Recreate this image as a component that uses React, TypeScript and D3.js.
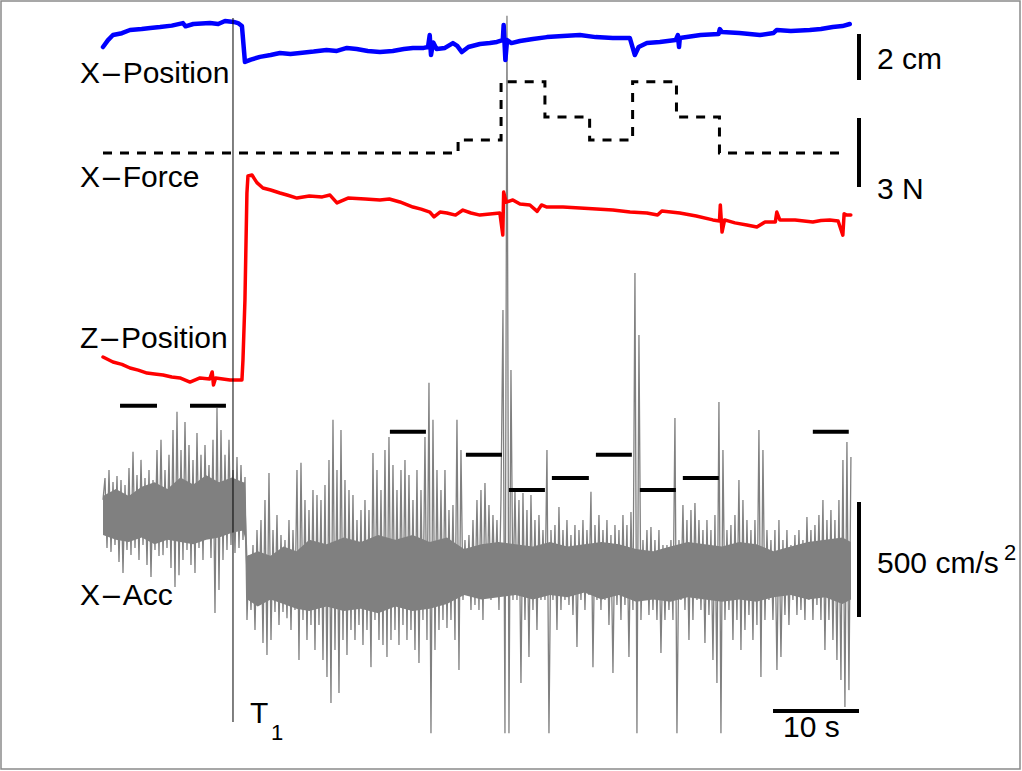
import React from 'react';
import * as d3 from 'd3';

// ---- time axis (seconds) ----
const T_MAX = 87;
const T1 = 15.12;

// ---- X-Position (cm) ----
const xPosition: [number, number][] = [
  [0, 1.0], [0.58, 1.3], [1.16, 1.52], [2.2, 1.6], [3.14, 1.74], [4.5, 1.78], [5.5, 1.83], [6.63, 1.87],
  [8.0, 1.93], [9.3, 2.04], [9.6, 1.9], [10.5, 2.0], [12.44, 2.04], [13.4, 2.0], [14.19, 2.13], [15.2, 2.09],
  [15.7, 2.04], [16.16, 1.91], [16.51, 0.35], [17.2, 0.45], [18.26, 0.57], [19.5, 0.65], [20.58, 0.74],
  [21.8, 0.7], [22.91, 0.74], [24.5, 0.8], [26.0, 0.87], [27.2, 0.83], [28.37, 0.96], [29.5, 0.91],
  [30.8, 0.83], [32.21, 0.78], [33.7, 0.83], [35.0, 0.91], [36.05, 0.96], [37.3, 0.96], [37.8, 1.0],
  [38.0, 1.52], [38.15, 0.65], [38.4, 1.2], [38.8, 0.91], [39.77, 0.96], [40.7, 1.17], [41.2, 1.05],
  [41.74, 0.78], [42.5, 1.0], [43.84, 1.13], [45.0, 1.17], [45.81, 1.22], [46.5, 1.3], [46.6, 1.96],
  [46.8, 0.43], [47.0, 1.3], [47.5, 1.17], [48.49, 1.26], [50.0, 1.35], [51.63, 1.43], [53.5, 1.48],
  [55.47, 1.52], [57.3, 1.43], [59.3, 1.39], [61.28, 1.39], [61.86, 0.65], [62.3, 1.0], [63.26, 1.17],
  [64.77, 1.22], [66.6, 1.3], [66.86, 1.52], [67.0, 1.0], [67.09, 1.39], [69.5, 1.52], [71.6, 1.57],
  [71.74, 1.78], [72.0, 1.65], [74.0, 1.61], [76.4, 1.52], [78.0, 1.61], [78.37, 1.74], [80.0, 1.7],
  [82.21, 1.74], [83.5, 1.78], [84.88, 1.87], [86.0, 1.91], [86.86, 2.0],
];

// ---- X-Force (N), step changes ----
const forceT = [0, 41.3, 46.3, 51.4, 56.6, 61.6, 66.7, 71.7, 86.05];
const forceN = [0, 0.57, 3.1, 1.57, 0.57, 3.1, 1.57, 0, 0];

// ---- Z-Position (cm) ----
const zPosition: [number, number][] = [
  [0, 1.87], [1.16, 1.65], [2.2, 1.55], [3.14, 1.39], [4.1, 1.3], [5.12, 1.17], [6.0, 1.13], [6.98, 1.09],
  [8.0, 1.0], [8.95, 0.96], [10.12, 0.78], [11.28, 0.96], [12.4, 0.91], [12.7, 1.22], [12.85, 0.65],
  [13.1, 0.96], [14.77, 0.87], [16.16, 0.87], [16.28, 1.74], [16.51, 4.35], [16.74, 9.0], [16.86, 9.74],
  [17.33, 9.78], [17.9, 9.45], [18.6, 9.22], [19.5, 9.13], [20.58, 9.0], [21.5, 8.9], [22.56, 8.78],
  [24.0, 8.87], [25.5, 8.83], [26.4, 8.91], [27.21, 8.57], [28.5, 8.78], [30.5, 8.74], [32.21, 8.7],
  [33.3, 8.74], [34.53, 8.61], [36.05, 8.39], [37.0, 8.3], [38.02, 8.17], [38.5, 7.96], [39.2, 8.17],
  [40.0, 8.13], [41.0, 8.04], [41.86, 8.26], [42.8, 8.13], [43.84, 8.04], [45.0, 8.09], [46.16, 8.13],
  [46.5, 7.17], [46.6, 9.04], [46.9, 8.6], [47.67, 8.7], [48.5, 8.52], [49.65, 8.48], [50.5, 8.2],
  [51.0, 8.48], [51.63, 8.39], [53.5, 8.39], [55.47, 8.35], [57.4, 8.3], [59.3, 8.26], [61.3, 8.17],
  [63.26, 8.13], [64.5, 8.04], [65.0, 8.22], [67.09, 8.13], [69.0, 8.0], [70.93, 7.83], [71.7, 7.78],
  [71.8, 8.48], [72.0, 7.3], [72.3, 7.83], [73.5, 7.7], [74.88, 7.61], [76.05, 7.52], [77.0, 7.74],
  [78.2, 7.74], [78.37, 8.17], [78.72, 7.83], [80.5, 7.83], [82.56, 7.74], [83.5, 7.8], [84.53, 7.83],
  [85.5, 7.78], [86.05, 7.17], [86.2, 8.1], [86.51, 8.04], [86.98, 8.04],
];

// ---- X-Acc (cm/s^2), uniformly sampled ----
const ACC_DT = 0.2326;
const accValues = [
  283, 378, 74, 413, 57, 361, 87, 387, 13, 370,
  -35, 348, 65, 422, 43, 492, 74, 391, 22, 457,
  87, 378, 0, 413, -52, 370, 65, 500, 39, 544,
  43, 413, 74, 479, -13, 587, -96, 666, -44, 500,
  22, 622, 65, 522, 0, 457, -35, 574, 74, 479,
  22, 522, 130, 435, 30, 544, -209, 683, -109, 587,
  22, 479, 65, 544, 87, 413, 52, 470, 74, 435,
  109, 383,
  -239, 43, -196, 87, -283, 152, -152, 196, -339, 283,
  -391, 400, -326, 152, -204, 217, -261, 130, -204,
  109, -231, 196, -283, 152, -196, 413, -413, 444, -239,
  283, -326, 239, -261, 326, -370, 304, -261, 283, -413,
  348, -487, 457, -600, 631, -370, 413, -557, 587, -326,
  370, -391, 326, -283, 304, -326, 196, -261, 239, -348,
  283, -283, 239, -444, 487, -239, 413, -326, 326, -348,
  500, -400, 557, -326, 435, -283, 326, -348, 413, -261,
  457, -326, 391, -283, 283, -370, 413, -426, 326, -239,
  557, -326, 792, -731, 631, -370, 413, -283, 326, -239,
  413, -274, 239, -239, 261, -326, 631, -457, 500, -152,
  109, -130, 130, -196, 196,
  -174, 283, -196, 326, -239, 357, -130, 261, -152, 217,
  -109, 196, -196, 283, 1109, -731, 2388, -731, 848, -152,
  326, -152, 283, -513, 313, -239, 239, -400, 304, -196,
  196, -283, 217, -152, 152, -152, 500, -731, 152, -152,
  174, -283, 252, -196, 152, -152, 196, -174, 130, -217,
  174, -357, 152, -152, 196, -196, 152, -130, 318, -444,
  174, -152, 217, -196, 152, -152, 196, -261, 130, -470,
  174, -174, 152, -239, 217, -174, 174, -400, 230, -196,
  1270, -731, 1000, -239, 109, -152, 152, -217, 165, -196,
  109, -239, 152, -383, 87,
  -239, 87, -196, 109, -239, 639, -731, 109, -152,
  261, -196, 196, -326, 239, -239, 270, -152, 196, -196,
  152, -339, 196, -217, 152, -413, 217, -513, 709, -731,
  500, -239, 152, -196, 174, -326, 217, -239, 370, -370,
  283, -283, 196, -217, 152, -326, 196, -261, 587, -487,
  500, -239, 152, -152, 109, -239, 152, -457, 196, -400,
  109, -217, 152, -261, 87, -152, 130, -217, 152, -196,
  109, -239, 209, -152, 152, -239, 174, -174, 217, -239,
  283, -370, 196, -239, 239, -326, 196, -413, 283, -500,
  457, -617, 535, -544, 470,
];

// dense core of the acceleration band
const accBandT = [
  0, 1.5, 3, 4.5, 6, 7.5, 9, 10.5, 12, 13.5, 15, 16.3, 16.5, 16.8, 18, 19.5, 21, 22.5, 24, 26, 28, 30,
  32, 34, 36, 38, 40, 42, 44, 46, 48, 50, 52, 54, 56, 58, 60, 62, 64, 66, 68, 70, 72, 74, 76, 78, 80,
  82, 84, 86, 87,
];
const accBandHi = [
  300, 330, 300, 340, 360, 330, 380, 350, 390, 360, 380, 360, 360, 40, 60, 40, 80, 60, 110, 90, 120, 100,
  130, 110, 130, 100, 120, 70, 90, 100, 90, 80, 100, 80, 90, 100, 90, 70, 60, 80, 100, 90, 80, 100, 90, 60, 80,
  100, 110, 120, 100,
];
const accBandLo = [
  130, 110, 100, 120, 90, 110, 100, 90, 110, 120, 140, 150, 120, -150, -180, -150, -170, -190, -200, -180, -200, -190,
  -210, -180, -200, -190, -170, -130, -150, -140, -130, -150, -130, -140, -120, -150, -130, -160, -150, -160, -140, -150, -160, -150, -160, -140, -130,
  -150, -140, -170, -150,
];

// black level markers in the acceleration panel
const markStart = [1.98, 10.12, 33.37, 42.21, 47.21, 52.21, 57.33, 62.44, 67.44, 82.56];
const markEnd = [6.28, 14.3, 37.56, 46.4, 51.4, 56.51, 61.51, 66.63, 71.63, 86.74];
const markLevel = [692, 692, 579, 479, 326, 378, 479, 326, 378, 579];

const FONT = "'Liberation Sans', Arial, Helvetica, sans-serif";

export default function App() {
  const x = d3.scaleLinear().domain([0, T_MAX]).range([103, 851]);
  const yPos = d3.scaleLinear().domain([0, 3]).range([70, 1]);
  const yForce = d3.scaleLinear().domain([0, 3]).range([153, 84]);
  const yZ = d3.scaleLinear().domain([0, 10]).range([400, 170]);
  const yAcc = d3.scaleLinear().domain([0, 1000]).range([565, 335]);

  const linePos = d3.line<[number, number]>().x((d) => x(d[0])).y((d) => yPos(d[1]));
  const lineZ = d3.line<[number, number]>().x((d) => x(d[0])).y((d) => yZ(d[1]));
  const forcePts = forceT.map((t, i) => [t, forceN[i]] as [number, number]);
  const lineForce = d3
    .line<[number, number]>()
    .x((d) => x(d[0]))
    .y((d) => yForce(d[1]))
    .curve(d3.curveStepAfter);
  const lineAcc = d3
    .line<number>()
    .x((_, i) => x(i * ACC_DT))
    .y((d) => yAcc(d));
  const bandIdx = accBandT.map((_, i) => i);
  const areaBand = d3
    .area<number>()
    .x((i) => x(accBandT[i]))
    .y0((i) => yAcc(accBandLo[i]))
    .y1((i) => yAcc(accBandHi[i]));

  const barX = 859;
  const cm2 = yPos(0) - yPos(2);
  const n3 = yForce(0) - yForce(3);
  const a500 = yAcc(0) - yAcc(500);
  const s10 = x(10) - x(0);

  const txt = { fontFamily: FONT, fontSize: 30, fill: '#000' } as const;

  const dashLabel = (a: string, b: string, y: number) => (
    <text x={80} y={y} {...txt}>
      {a}
      <tspan fontFamily="'DejaVu Sans', sans-serif" fontSize={27}>−</tspan>
      <tspan>{b}</tspan>
    </text>
  );

  return (
    <svg
      width={1022}
      height={771}
      style={{ position: 'absolute', left: 0, top: 0, background: '#fff' }}
    >
      <rect x={0} y={0} width={1022} height={771} fill="#fff" />
      <rect x={1} y={1} width={1019} height={768} fill="none" stroke="#8a8a8a" strokeWidth={1.5} />

      {/* acceleration */}
      <path d={areaBand(bandIdx) || ''} fill="#808080" />
      <path d={lineAcc(accValues) || ''} fill="none" stroke="#808080" strokeWidth={1.3} />

      {/* traces */}
      <path d={linePos(xPosition) || ''} fill="none" stroke="#0000ff" strokeWidth={4.5} strokeLinejoin="round" strokeLinecap="round" />
      <path d={lineForce(forcePts) || ''} fill="none" stroke="#000" strokeWidth={3} strokeDasharray="9,8" />
      <path d={lineZ(zPosition) || ''} fill="none" stroke="#ff0000" strokeWidth={3.5} strokeLinejoin="round" strokeLinecap="round" />

      {/* markers */}
      {markStart.map((s, i) => (
        <line key={i} x1={x(s)} x2={x(markEnd[i])} y1={yAcc(markLevel[i])} y2={yAcc(markLevel[i])} stroke="#000" strokeWidth={4} />
      ))}

      {/* T1 line */}
      <line x1={x(T1)} x2={x(T1)} y1={18} y2={722} stroke="#000" strokeWidth={1} />

      {/* scale bars */}
      <line x1={barX} x2={barX} y1={34} y2={34 + cm2} stroke="#000" strokeWidth={4} />
      <line x1={barX} x2={barX} y1={118} y2={118 + n3} stroke="#000" strokeWidth={4} />
      <line x1={barX} x2={barX} y1={502} y2={502 + a500} stroke="#000" strokeWidth={4} />
      <line x1={barX - s10} x2={barX} y1={711} y2={711} stroke="#000" strokeWidth={4} />

      {/* labels */}
      {dashLabel('X', 'Position', 83)}
      {dashLabel('X', 'Force', 187)}
      {dashLabel('Z', 'Position', 348)}
      {dashLabel('X', 'Acc', 605)}
      <text x={877} y={69} {...txt}>2 cm</text>
      <text x={877} y={199} {...txt}>3 N</text>
      <text x={877} y={573} {...txt}>500 cm/s</text>
      <text x={1004} y={560} fontFamily={FONT} fontSize={22} fill="#000">2</text>
      <text x={783} y={737} {...txt}>10 s</text>
      <text x={250} y={723} {...txt}>T</text>
      <text x={271} y={740} fontFamily={FONT} fontSize={22} fill="#000">1</text>
    </svg>
  );
}
